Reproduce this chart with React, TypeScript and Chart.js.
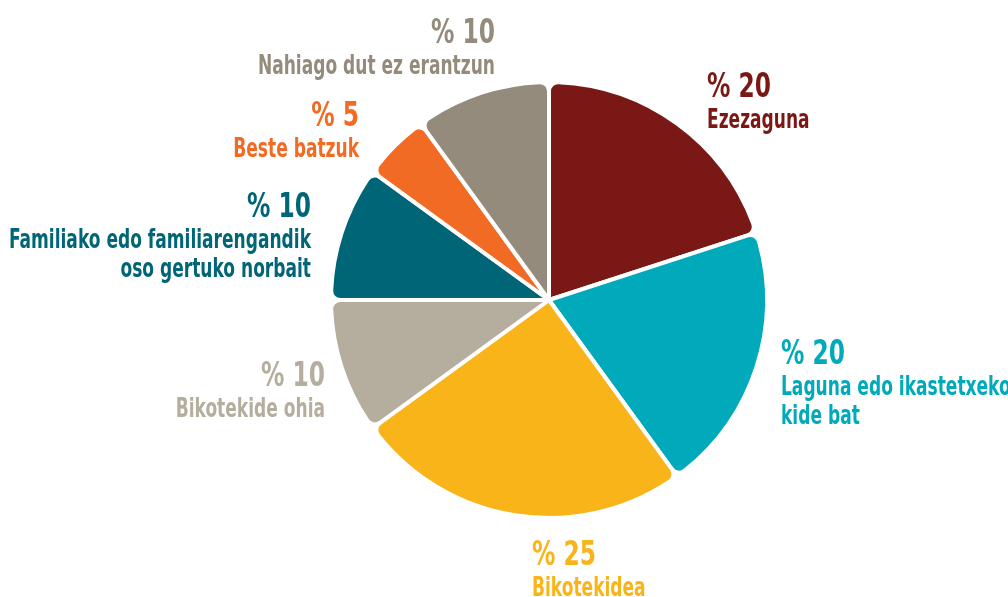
import React, { useEffect, useRef } from "react";
import { Chart, registerables } from "chart.js";

Chart.register(...registerables);

const categories = [
  "Ezezaguna",
  "Laguna edo ikastetxeko\nkide bat",
  "Bikotekidea",
  "Bikotekide ohia",
  "Familiako edo familiarengandik\noso gertuko norbait",
  "Beste batzuk",
  "Nahiago dut ez erantzun",
];
const values = [20, 20, 25, 10, 10, 5, 10];
const colors = ["#7A1816", "#00AABB", "#F9B41A", "#B5AE9F", "#006677", "#F26B25", "#958B7C"];

// label anchor layout (pixel positions), separate from data
const labelLayout = [
  { x: 707, y: 97, align: "left" },
  { x: 781, y: 364, align: "left" },
  { x: 532, y: 565, align: "left" },
  { x: 325, y: 386, align: "right" },
  { x: 311, y: 217, align: "right" },
  { x: 359, y: 126, align: "right" },
  { x: 495, y: 43, align: "right" },
];

const FONT = "'Liberation Sans Narrow', 'DejaVu Sans Condensed', sans-serif";

function drawSqueezed(ctx: any, text: string, x: number, y: number, sx: number) {
  ctx.save();
  ctx.translate(x, y);
  ctx.scale(sx, 1);
  ctx.fillText(text, 0, 0);
  ctx.restore();
}

const labelPlugin = {
  id: "pieLabels",
  afterDatasetsDraw(chart: any) {
    const ctx = chart.ctx;
    ctx.save();
    ctx.textBaseline = "alphabetic";
    ctx.font = `bold 34px ${FONT}`;
    const sxP = 64 / ctx.measureText("% 10").width;
    ctx.font = `bold 27px ${FONT}`;
    const sxL = 302 / ctx.measureText("Familiako edo familiarengandik").width;
    categories.forEach((cat, i) => {
      const l = labelLayout[i];
      ctx.fillStyle = colors[i];
      ctx.textAlign = l.align;
      ctx.font = `bold 34px ${FONT}`;
      drawSqueezed(ctx, `% ${values[i]}`, l.x, l.y, sxP);
      ctx.font = `bold 27px ${FONT}`;
      cat.split("\n").forEach((line, j) => {
        drawSqueezed(ctx, line, l.x, l.y + 31 + j * 29, sxL);
      });
    });
    ctx.restore();
  },
};

export default function App() {
  const ref = useRef<HTMLCanvasElement>(null);
  useEffect(() => {
    if (!ref.current) return;
    const chart = new Chart(ref.current, {
      type: "pie",
      data: {
        labels: categories,
        datasets: [
          {
            data: values,
            backgroundColor: colors,
            borderColor: "#ffffff",
            borderWidth: 4,
            borderRadius: 9,
            radius: 218,
          } as any,
        ],
      },
      options: {
        animation: false,
        responsive: false,
        layout: { padding: { left: 90, right: 0, top: 3, bottom: 0 } },
        plugins: {
          legend: { display: false },
          tooltip: { enabled: false },
        },
      },
      plugins: [labelPlugin],
    });
    return () => chart.destroy();
  }, []);
  return (
    <div style={{ position: "fixed", left: 0, top: 0, width: 1008, height: 597, background: "#fff" }}>
      <canvas ref={ref} width={1008} height={597} />
    </div>
  );
}
